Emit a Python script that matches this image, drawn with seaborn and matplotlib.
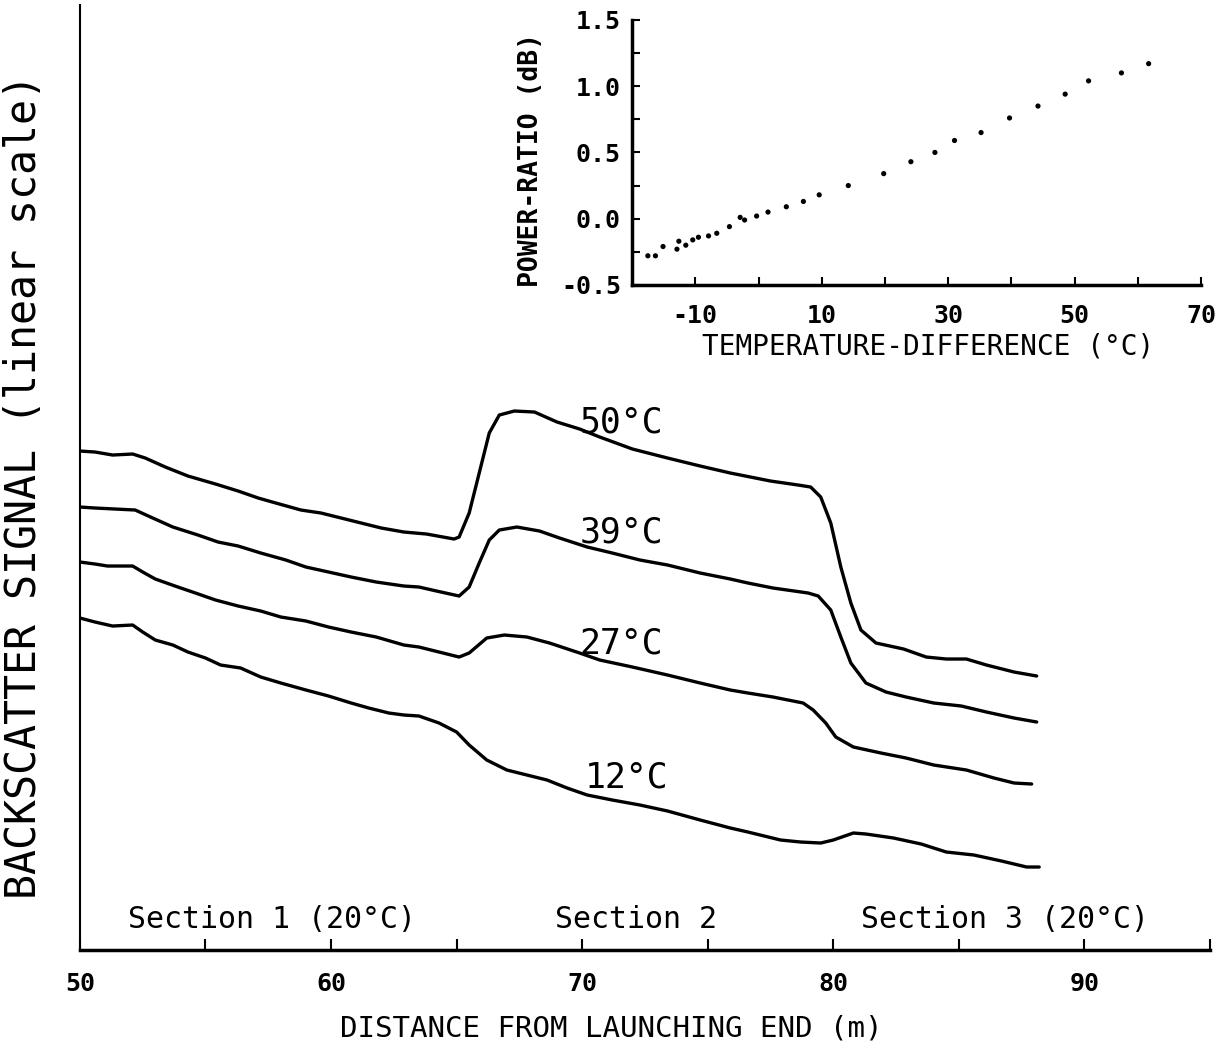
import matplotlib
matplotlib.use("Agg")
import matplotlib.pyplot as plt
import seaborn as sns
import numpy as np

# backscatter traces, distance (m) vs signal (arbitrary linear units)
dist_50 = [50.0, 50.6, 51.3, 52.1, 52.6, 53.4, 54.3, 55.4, 56.3, 57.1, 57.8, 58.8, 59.6, 60.4, 61.2,
           62.0, 62.9, 63.8, 64.9, 65.1, 65.5, 65.9, 66.3, 66.7, 67.3, 68.1, 69.0, 69.9, 70.7, 72.0,
           73.4, 74.7, 75.9, 76.3, 77.5, 78.6, 79.1, 79.5, 79.9, 80.3, 80.7, 81.1, 81.7, 82.8, 83.7,
           84.5, 85.3, 86.1, 87.2, 88.1]
sig_50 = [4.99, 4.98, 4.95, 4.96, 4.92, 4.83, 4.74, 4.66, 4.59, 4.52, 4.47, 4.40, 4.37, 4.32, 4.27,
          4.22, 4.18, 4.16, 4.11, 4.13, 4.37, 4.77, 5.17, 5.35, 5.39, 5.38, 5.28, 5.21, 5.13, 5.01,
          4.92, 4.84, 4.77, 4.75, 4.69, 4.65, 4.63, 4.53, 4.27, 3.83, 3.47, 3.20, 3.07, 3.01, 2.93,
          2.91, 2.91, 2.85, 2.78, 2.74]

dist_39 = [50.0, 50.6, 51.4, 52.2, 52.9, 53.7, 54.7, 55.5, 56.3, 57.2, 58.2, 59.0, 59.9, 60.8, 61.8,
           62.9, 63.5, 64.2, 65.1, 65.5, 65.9, 66.3, 66.7, 67.4, 68.3, 69.1, 70.2, 71.2, 72.3, 73.4,
           74.7, 75.9, 76.6, 77.6, 79.0, 79.4, 79.9, 80.3, 80.7, 81.3, 82.1, 82.9, 84.0, 85.1, 86.1,
           87.2, 88.1]
sig_39 = [4.43, 4.42, 4.41, 4.40, 4.32, 4.23, 4.15, 4.08, 4.04, 3.97, 3.90, 3.83, 3.78, 3.73, 3.68,
          3.64, 3.63, 3.59, 3.54, 3.63, 3.87, 4.10, 4.20, 4.23, 4.19, 4.12, 4.03, 3.97, 3.90, 3.85,
          3.77, 3.71, 3.67, 3.62, 3.57, 3.54, 3.40, 3.13, 2.87, 2.67, 2.58, 2.53, 2.47, 2.44, 2.38,
          2.32, 2.28]

dist_27 = [50.0, 50.6, 51.1, 52.1, 52.5, 53.0, 53.9, 54.6, 55.4, 56.3, 57.2, 58.0, 59.0, 59.9, 60.8,
           61.8, 62.9, 63.5, 64.3, 65.1, 65.5, 66.2, 66.9, 67.8, 68.7, 69.9, 70.7, 72.0, 73.4, 74.7,
           75.9, 76.6, 77.6, 78.8, 79.2, 79.7, 80.1, 80.8, 81.9, 82.9, 84.0, 85.3, 86.4, 87.2, 87.9]
sig_27 = [3.88, 3.86, 3.84, 3.84, 3.78, 3.71, 3.63, 3.57, 3.50, 3.44, 3.39, 3.33, 3.29, 3.23, 3.18,
          3.13, 3.05, 3.03, 2.98, 2.93, 2.97, 3.12, 3.15, 3.13, 3.07, 2.97, 2.90, 2.83, 2.75, 2.67,
          2.60, 2.57, 2.53, 2.47, 2.40, 2.27, 2.13, 2.03, 1.97, 1.92, 1.85, 1.80, 1.72, 1.67, 1.66]

dist_12 = [50.0, 50.6, 51.3, 52.1, 52.5, 53.0, 53.7, 54.3, 55.0, 55.6, 56.4, 57.2, 58.0, 59.0, 59.9,
           60.8, 61.5, 62.3, 62.9, 63.5, 64.3, 65.0, 65.5, 66.2, 67.0, 67.8, 68.6, 69.4, 70.2, 71.2,
           72.3, 73.4, 74.7, 75.9, 76.6, 77.9, 78.7, 79.5, 80.0, 80.8, 81.3, 82.4, 83.5, 84.5, 85.6,
           86.7, 87.7, 88.2]
sig_12 = [3.32, 3.28, 3.24, 3.25, 3.18, 3.10, 3.05, 2.98, 2.92, 2.85, 2.82, 2.73, 2.67, 2.60, 2.54,
          2.47, 2.42, 2.37, 2.35, 2.34, 2.27, 2.18, 2.05, 1.90, 1.80, 1.75, 1.70, 1.62, 1.55, 1.50,
          1.45, 1.39, 1.30, 1.22, 1.18, 1.10, 1.08, 1.07, 1.10, 1.17, 1.16, 1.12, 1.06, 0.98, 0.95,
          0.89, 0.83, 0.83]

trace_labels = ["50°C", "39°C", "27°C", "12°C"]
label_pos = [(69.9, 5.18), (69.9, 4.08), (69.9, 2.97), (70.1, 1.63)]

section_labels = ["Section 1 (20°C)", "Section 2", "Section 3 (20°C)"]
section_x = [51.9, 68.9, 81.1]

# inset: power ratio vs temperature difference
temp_diff = [-17.5, -16.3, -15.1, -12.9, -12.6, -11.5, -10.4, -9.5, -7.9, -6.6, -4.6, -2.9, -2.2,
             -0.3, 1.5, 4.4, 7.1, 9.6, 14.2, 19.8, 24.1, 27.9, 31.0, 35.2, 39.7, 44.2, 48.5, 52.2,
             57.4, 61.7]
power_ratio = [-0.28, -0.28, -0.21, -0.23, -0.17, -0.20, -0.16, -0.14, -0.13, -0.11, -0.06, 0.01,
               -0.01, 0.02, 0.05, 0.09, 0.13, 0.18, 0.25, 0.34, 0.43, 0.50, 0.59, 0.65, 0.76, 0.85,
               0.94, 1.04, 1.10, 1.17]

sns.set_style("ticks")
plt.rcParams['font.family'] = ['DejaVu Sans Mono', 'DejaVu Sans']
plt.rcParams['text.color'] = 'black'
plt.rcParams['axes.labelcolor'] = 'black'
plt.rcParams['xtick.color'] = 'black'
plt.rcParams['ytick.color'] = 'black'

fig = plt.figure(figsize=(12.28, 10.48), dpi=100)
ax = fig.add_axes([0.0651, 0.0935, 0.9202, 0.9017])

for d, s in [(dist_50, sig_50), (dist_39, sig_39), (dist_27, sig_27), (dist_12, sig_12)]:
    sns.lineplot(x=d, y=s, ax=ax, color='black', linewidth=2.4, sort=False,
                 solid_joinstyle='round', solid_capstyle='round')

for lab, (lx, ly) in zip(trace_labels, label_pos):
    ax.text(lx, ly, lab, fontsize=25, ha='left', va='baseline')

for lab, sx in zip(section_labels, section_x):
    ax.text(sx, 0.22, lab, fontsize=21.5, ha='left', va='baseline')

ax.set_xlim(50, 95)
ax.set_ylim(0, 9.45)
ax.set_yticks([])
ax.set_xticks(np.arange(50, 96, 5))
ax.set_xticklabels(['50', '', '60', '', '70', '', '80', '', '90', ''], fontsize=18, fontweight='bold')
ax.tick_params(axis='x', direction='in', length=8, width=1.5, pad=16, color='black')
sns.despine(ax=ax)
ax.spines['bottom'].set_linewidth(2.5)
ax.spines['left'].set_linewidth(1.5)
for sp in ax.spines.values():
    sp.set_color('black')

ax.set_xlabel("DISTANCE FROM LAUNCHING END (m)", fontsize=21)
ax.xaxis.set_label_coords(0.47, -0.068)
ax.set_ylabel("BACKSCATTER SIGNAL (linear scale)", fontsize=30)
ax.yaxis.set_label_coords(-0.031, 0.49)

# inset
ax2 = fig.add_axes([0.5147, 0.7281, 0.4634, 0.2529])
ax2.patch.set_alpha(0)
sns.scatterplot(x=temp_diff, y=power_ratio, ax=ax2, color='black', s=14, edgecolor='none')
ax2.set_xlim(-20, 70)
ax2.set_ylim(-0.5, 1.5)
ax2.set_xticks(np.arange(-10, 71, 10))
ax2.set_xticklabels(['-10', '', '10', '', '30', '', '50', '', '70'], fontsize=18, fontweight='bold')
ax2.set_yticks(np.arange(-0.5, 1.51, 0.25))
ax2.set_yticklabels(['-0.5', '', '0.0', '', '0.5', '', '1.0', '', '1.5'], fontsize=18, fontweight='bold')
ax2.tick_params(direction='in', length=6, width=1.5, color='black')
ax2.tick_params(axis='x', pad=14)
ax2.tick_params(axis='y', pad=8)
sns.despine(ax=ax2)
for sp in ax2.spines.values():
    sp.set_linewidth(2.5)
    sp.set_color('black')
ax2.set_xlabel("TEMPERATURE-DIFFERENCE (°C)", fontsize=20)
ax2.xaxis.set_label_coords(0.52, -0.18)
ax2.set_ylabel("POWER-RATIO (dB)", fontsize=19, fontweight='bold')
ax2.yaxis.set_label_coords(-0.155, 0.47)

fig.savefig("out.png", dpi=100)
